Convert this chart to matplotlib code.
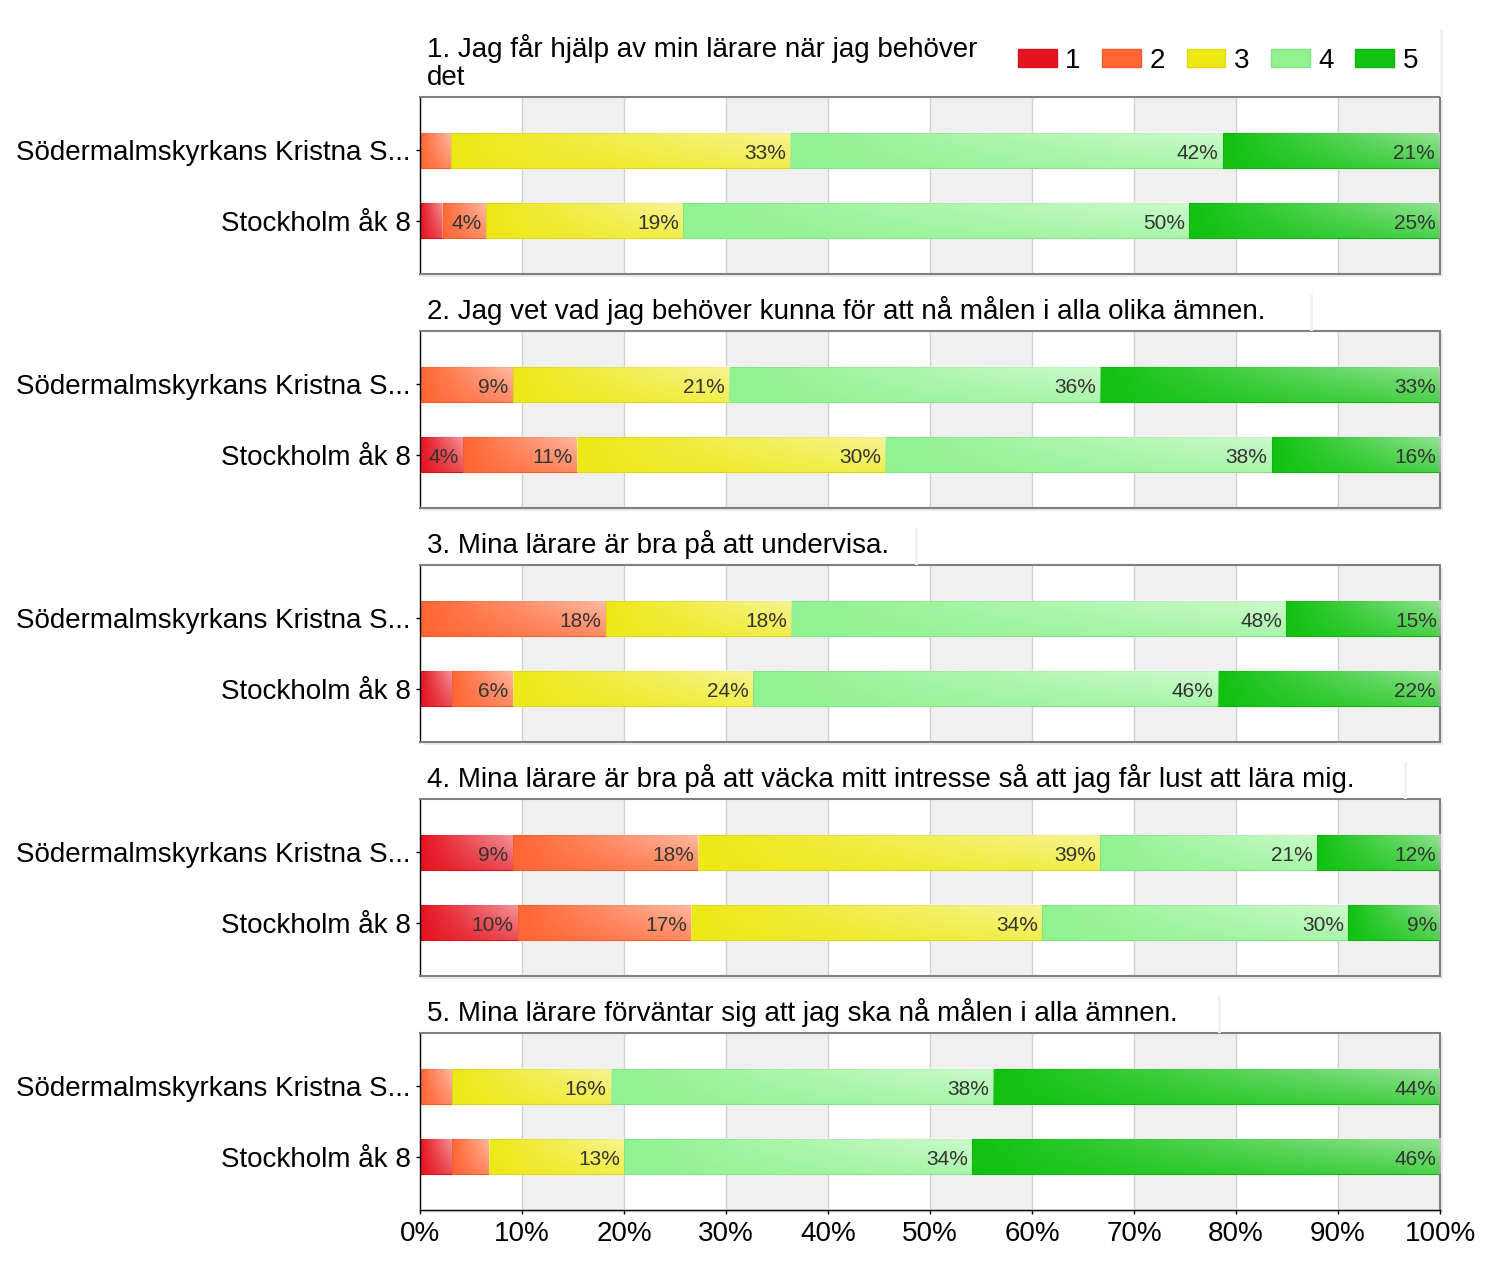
import numpy as np
import matplotlib
matplotlib.use("Agg")
import matplotlib.pyplot as plt
from matplotlib.patches import Patch, Rectangle
from matplotlib import patheffects as pe
from matplotlib.colors import to_rgb

plt.rcParams["font.family"] = ["Liberation Sans", "DejaVu Sans"]

# questions and the two groups that answered
questions = [
    "1. Jag får hjälp av min lärare när jag behöver\ndet",
    "2. Jag vet vad jag behöver kunna för att nå målen i alla olika ämnen.",
    "3. Mina lärare är bra på att undervisa.",
    "4. Mina lärare är bra på att väcka mitt intresse så att jag får lust att lära mig.",
    "5. Mina lärare förväntar sig att jag ska nå målen i alla ämnen.",
]
groups = ["Södermalmskyrkans Kristna S...", "Stockholm åk 8"]
answers = ["1", "2", "3", "4", "5"]

# share (%) of answers 1..5, one row per question
school = [
    [0.0, 3.0, 33.3, 42.4, 21.2],
    [0.0, 9.1, 21.2, 36.4, 33.3],
    [0.0, 18.2, 18.2, 48.5, 15.2],
    [9.1, 18.2, 39.4, 21.2, 12.1],
    [0.0, 3.1, 15.6, 37.5, 43.8],
]
stockholm = [
    [2.2, 4.3, 19.3, 49.6, 24.6],
    [4.2, 11.2, 30.2, 37.9, 16.5],
    [3.1, 6.0, 23.5, 45.6, 21.8],
    [9.6, 17.0, 34.4, 30.0, 9.1],
    [3.1, 3.7, 13.2, 34.1, 45.9],
]

colors = ["#e5131f", "#ff6633", "#ede816", "#90f390", "#11c211"]


def darker(c, f=0.9):
    r, g, b = to_rgb(c)
    return (r * f, g * f, b * f)


# white glossy overlay: lighter to the right and at the top
nx, ny = 64, 16
xf = np.linspace(0, 1, nx)
yf = np.linspace(0, 1, ny)
gloss = np.ones((ny, nx, 4))
gloss[..., 3] = 0.55 * xf[None, :] * (0.45 + 0.55 * yf[:, None])

W_PX, H_PX = 1500, 1270
fig = plt.figure(figsize=(15, 12.7), dpi=100)

tops = [97, 331, 565, 799, 1033]
ax_h = 177
ypos = [1, 0]
bar_h = 0.5

axes = []
titles = []
for qi, q in enumerate(questions):
    ax = fig.add_axes([420 / W_PX, 1 - (tops[qi] + ax_h) / H_PX, 1020 / W_PX, ax_h / H_PX])
    axes.append(ax)
    ax.patch.set_path_effects([pe.withSimplePatchShadow(offset=(2.5, -2.5), shadow_rgbFace="#ebebeb", alpha=1)])

    # alternating bands and grid
    for k in range(1, 10, 2):
        ax.axvspan(k * 10, (k + 1) * 10, color="#f0f0f0", zorder=0, lw=0)
    for k in range(1, 10):
        ax.axvline(k * 10, color="#d2d2d2", lw=1, zorder=1)

    for y, vals in zip(ypos, [school[qi], stockholm[qi]]):
        left = 0.0
        for v, c in zip(vals, colors):
            if v > 0:
                ax.barh(y, v, left=left, height=bar_h, color=c,
                        edgecolor=darker(c, 0.93), linewidth=0.8, zorder=2)
                ax.imshow(gloss, extent=[left, left + v, y - bar_h / 2, y + bar_h / 2],
                          origin="lower", aspect="auto", interpolation="bilinear", zorder=3)
                if v >= 4:
                    ax.text(left + v - 0.4, y - 0.04, f"{round(v)}%", ha="right", va="center",
                            fontsize=15, color="#333333", zorder=4)
            left += v

    ax.set_xlim(0, 100)
    ax.set_ylim(-0.764, 1.764)
    ax.set_yticks(ypos)
    ax.set_yticklabels(groups, fontsize=20)
    ax.tick_params(axis="y", length=3, width=1, pad=3.5, colors="black")

    for s in ["top", "right", "bottom"]:
        ax.spines[s].set_color("#808080")
        ax.spines[s].set_linewidth(1.5)
    ax.spines["left"].set_color("black")
    ax.spines["left"].set_linewidth(1)

    if qi == len(questions) - 1:
        ax.set_xticks(range(0, 101, 10))
        ax.set_xticklabels([f"{k}%" for k in range(0, 101, 10)], fontsize=20)
        ax.tick_params(axis="x", length=3, width=1, pad=5)
        ax.spines["bottom"].set_color("black")
        ax.spines["bottom"].set_linewidth(1)
    else:
        ax.set_xticks([])

    t = ax.text(7 / 1020, 1 + 6 / ax_h, q, transform=ax.transAxes, ha="left", va="bottom",
                fontsize=20, linespacing=1.1)
    titles.append(t)

handles = [Patch(facecolor=c, edgecolor=darker(c, 0.93)) for c in colors]
fig.legend(handles, answers, loc="center right", bbox_to_anchor=(1418 / W_PX, 1 - 61 / H_PX),
           ncol=5, frameon=False, fontsize=20, handlelength=1.4, handleheight=0.6,
           handletextpad=0.3, columnspacing=0.78, borderaxespad=0, borderpad=0)

# faint shadow at the right edge of each title box
fig.canvas.draw()
W, H = fig.bbox.width, fig.bbox.height
for i, (ax, t) in enumerate(zip(axes, titles)):
    bb = t.get_window_extent()
    ab = ax.get_window_extent()
    if i == 0:
        x1, y1 = ab.x1, H - 30
    else:
        x1, y1 = bb.x1 + 0.05 * bb.width + 3, bb.y1 + 2
    fig.add_artist(Rectangle((x1 / W, ab.y1 / H), 3 / W, (y1 - ab.y1) / H,
                             transform=fig.transFigure, facecolor="#f1f1f1", edgecolor="none"))

fig.savefig("out.png", dpi=100)
